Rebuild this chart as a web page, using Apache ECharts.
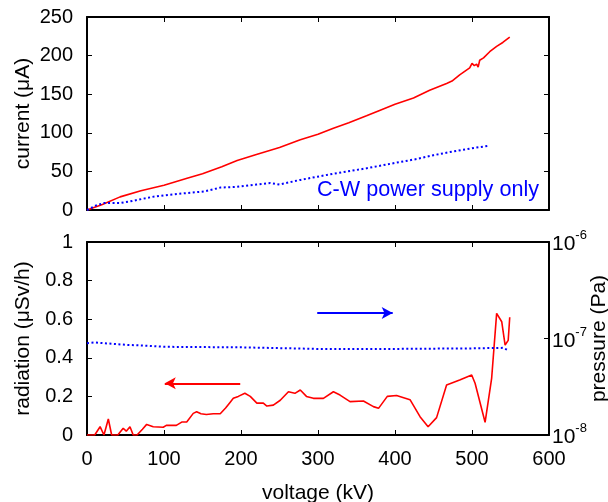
<!DOCTYPE html>
<html>
<head>
<meta charset="utf-8">
<script src="https://cdn.jsdelivr.net/npm/echarts@6/dist/echarts.min.js"></script>
<style>
  html, body { margin: 0; padding: 0; background: #fff; }
  #chart { width: 608px; height: 502px; }
</style>
</head>
<body>
<div id="chart"></div>
<script>
// total current (red) vs voltage
const totalV = [0, 20, 43, 70, 100, 130, 150, 175, 195, 220, 250, 277, 300, 320, 340, 363, 380, 400, 424, 445, 467, 474, 484, 497, 500, 503, 506, 508, 510, 515, 523, 532, 540, 549];
const totalI = [0, 7, 17, 25, 32, 41, 47, 56, 64, 72, 81, 91, 98, 106, 113, 122, 129, 137, 145, 155, 164, 167, 175, 184, 190, 187, 189, 185, 194, 197, 205, 212, 217, 224];
// C-W power supply only (blue dotted)
const cwV = [0, 12, 22, 35, 43, 55, 65, 85, 100, 130, 152, 173, 195, 220, 238, 250, 277, 320, 363, 400, 428, 450, 471, 500, 521];
const cwI = [0, 6, 9, 9, 9, 11, 13, 17, 19, 22, 24, 29, 30, 33, 35, 33, 39, 47, 54, 61, 66, 71, 75, 80, 83];
// radiation (red)
const radV = [0, 10, 17, 22, 27.7, 32, 40, 47, 51, 55.8, 60, 65, 72, 77.5, 86, 99, 103, 116, 123, 129.5, 138, 142.4, 148, 155, 164, 173, 180, 186, 190, 196.5, 205, 212, 220.6, 229, 233.6, 242, 251, 261.6, 270, 277, 285, 294, 307, 320, 328.6, 341.6, 359, 372, 378.6, 390, 402, 419.5, 432.5, 443, 454, 467, 484, 499.6, 504, 517, 525.5, 532, 538.6, 543, 547, 549];
const radR = [0, 0, 0.043, 0, 0.083, 0, 0, 0.035, 0.02, 0.043, 0, 0, 0.03, 0.055, 0.043, 0.04, 0.05, 0.05, 0.067, 0.067, 0.112, 0.12, 0.11, 0.106, 0.11, 0.11, 0.14, 0.17, 0.19, 0.2, 0.216, 0.2, 0.165, 0.165, 0.15, 0.155, 0.18, 0.224, 0.216, 0.233, 0.2, 0.19, 0.19, 0.224, 0.207, 0.173, 0.176, 0.147, 0.138, 0.2, 0.205, 0.183, 0.095, 0.043, 0.09, 0.259, 0.285, 0.311, 0.268, 0.066, 0.293, 0.63, 0.587, 0.466, 0.49, 0.61];
// pressure (blue dotted, log axis)
const presV = [0, 10, 50, 80, 100, 200, 300, 400, 500, 540, 548];
const presP = [8.95e-8, 9.1e-8, 8.6e-8, 8.4e-8, 8.2e-8, 8.1e-8, 7.8e-8, 7.8e-8, 7.9e-8, 8.0e-8, 7.5e-8];
// arrows: [x from, x to, y]
const redArrow = [199, 101, 0.268];
const blueArrow = [299, 397, 0.632];

const xTicks = [0, 100, 200, 300, 400, 500, 600];

function zip(a, b) { return a.map((v, i) => [v, b[i]]); }

const font = 'Liberation Sans, Arial, Helvetica, sans-serif';
const black = '#000';
const lineAx = { show: true, onZero: false, lineStyle: { color: black, width: 2 } };
const tickIn = { show: true, inside: true, length: 5, lineStyle: { color: black, width: 1 } };
const lbl = { color: black, fontSize: 20, fontFamily: font };
const nameTxt = { color: black, fontSize: 21, fontFamily: font };

const chart = echarts.init(document.getElementById('chart'));
chart.setOption({
  animation: false,
  backgroundColor: '#fff',
  textStyle: { fontFamily: font },
  grid: [
    { left: 87, top: 17, width: 462, height: 193, outerBoundsMode: 'none' },
    { left: 87, top: 242, width: 462, height: 193, outerBoundsMode: 'none' }
  ],
  xAxis: [
    { type: 'value', gridIndex: 0, position: 'bottom', min: 0, max: 600, interval: 100,
      axisLine: lineAx, axisTick: tickIn, axisLabel: { show: false }, splitLine: { show: false } },
    { type: 'value', gridIndex: 0, position: 'top', min: 0, max: 600, interval: 100,
      axisLine: lineAx, axisTick: tickIn, axisLabel: { show: false }, splitLine: { show: false } },
    { type: 'value', gridIndex: 1, position: 'bottom', min: xTicks[0], max: xTicks[xTicks.length - 1], interval: 100,
      axisLine: lineAx, axisTick: tickIn, axisLabel: Object.assign({ margin: 14 }, lbl), splitLine: { show: false },
      name: 'voltage (kV)', nameLocation: 'middle', nameGap: 48, nameMoveOverlap: false, nameTextStyle: nameTxt },
    { type: 'value', gridIndex: 1, position: 'top', min: 0, max: 600, interval: 100,
      axisLine: lineAx, axisTick: tickIn, axisLabel: { show: false }, splitLine: { show: false } }
  ],
  yAxis: [
    { type: 'value', gridIndex: 0, position: 'left', min: 0, max: 250, interval: 50,
      axisLine: lineAx, axisTick: tickIn, axisLabel: Object.assign({ margin: 14 }, lbl), splitLine: { show: false },
      name: 'current (μA)', nameLocation: 'middle', nameGap: 53, nameRotate: 90, nameMoveOverlap: false,
      nameTextStyle: nameTxt },
    { type: 'value', gridIndex: 0, position: 'right', min: 0, max: 250, interval: 50,
      axisLine: lineAx, axisTick: tickIn, axisLabel: { show: false }, splitLine: { show: false } },
    { type: 'value', gridIndex: 1, position: 'left', min: 0, max: 1, interval: 0.2,
      axisLine: lineAx, axisTick: tickIn, axisLabel: Object.assign({ margin: 14 }, lbl), splitLine: { show: false },
      name: 'radiation (μSv/h)', nameLocation: 'middle', nameGap: 53, nameRotate: 90, nameMoveOverlap: false,
      nameTextStyle: nameTxt },
    { type: 'log', logBase: 10, gridIndex: 1, position: 'right', min: 1e-8, max: 1e-6,
      axisLine: lineAx, axisTick: tickIn, splitLine: { show: false },
      axisLabel: {
        margin: 3, color: black, fontFamily: font,
        formatter: v => '{b|10}{s|' + Math.round(Math.log10(v)) + '}',
        rich: {
          b: { fontSize: 21, fontFamily: font, color: black, lineHeight: 26, verticalAlign: 'bottom' },
          s: { fontSize: 13, fontFamily: font, color: black, lineHeight: 26, verticalAlign: 'top' }
        }
      },
      name: 'pressure (Pa)', nameLocation: 'middle', nameGap: 40, nameRotate: 90, nameMoveOverlap: false,
      nameTextStyle: nameTxt }
  ],
  series: [
    { type: 'line', name: 'total', xAxisIndex: 0, yAxisIndex: 0, data: zip(totalV, totalI),
      showSymbol: false, lineStyle: { color: '#ff0000', width: 1.6 } },
    { type: 'line', name: 'cw', xAxisIndex: 0, yAxisIndex: 0, data: zip(cwV, cwI),
      showSymbol: false, lineStyle: { color: '#0000ff', width: 2, type: [2, 2.5] } },
    { type: 'line', name: 'radiation', xAxisIndex: 2, yAxisIndex: 2, data: zip(radV, radR),
      showSymbol: false, lineStyle: { color: '#ff0000', width: 1.6 },
      markLine: {
        silent: true, symbol: ['none', 'arrow'], symbolSize: [9, 11],
        label: { show: false },
        data: [
          [{ coord: [redArrow[0], redArrow[2]], lineStyle: { color: '#ff0000', width: 2, type: 'solid' } },
           { coord: [redArrow[1], redArrow[2]] }],
          [{ coord: [blueArrow[0], blueArrow[2]], lineStyle: { color: '#0000ff', width: 2, type: 'solid' } },
           { coord: [blueArrow[1], blueArrow[2]] }]
        ]
      } },
    { type: 'line', name: 'pressure', xAxisIndex: 2, yAxisIndex: 3, data: zip(presV, presP),
      showSymbol: false, lineStyle: { color: '#0000ff', width: 2, type: [2, 2.5] } }
  ],
  graphic: [
    { type: 'text', left: 317, top: 179,
      style: { text: 'C-W power supply only', fill: '#0000ff', fontSize: 21.6, fontFamily: font } }
  ]
});
</script>
</body>
</html>
